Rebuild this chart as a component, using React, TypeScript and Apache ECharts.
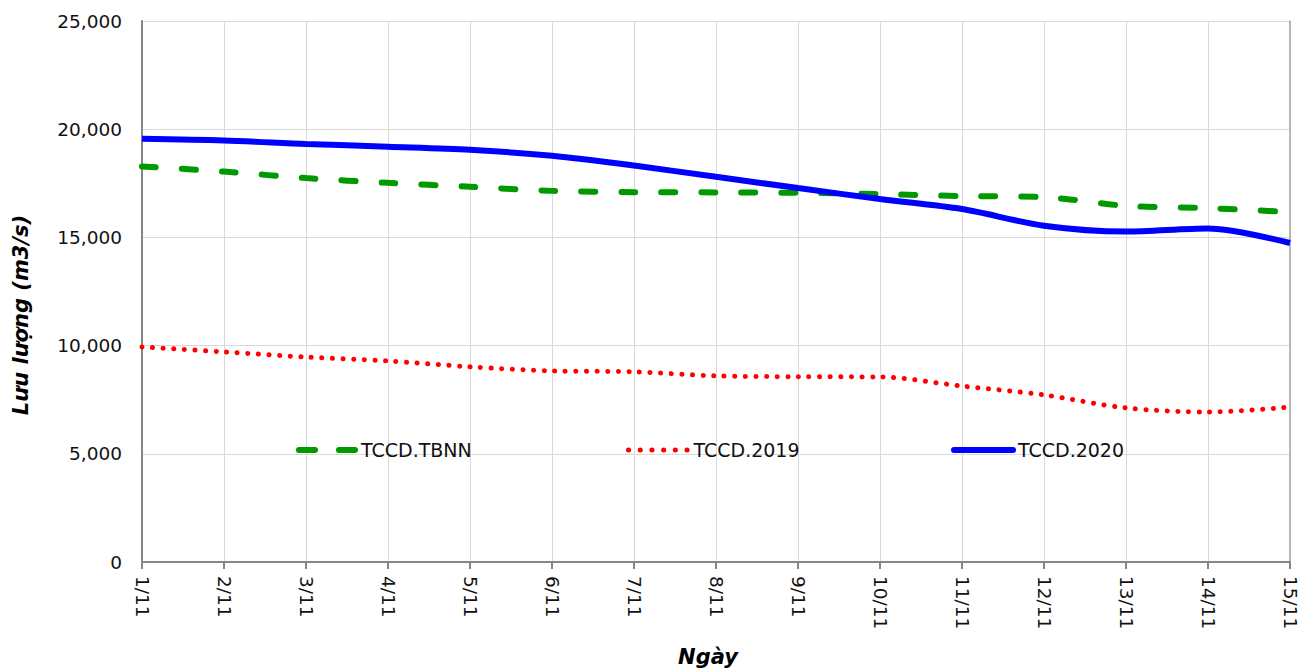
import React, { useEffect, useRef } from "react";
import * as echarts from "echarts";

const categories = ["1/11", "2/11", "3/11", "4/11", "5/11", "6/11", "7/11", "8/11", "9/11", "10/11", "11/11", "12/11", "13/11", "14/11", "15/11"];
const tbnn = [18280, 18040, 17740, 17520, 17340, 17150, 17090, 17080, 17060, 17000, 16910, 16860, 16460, 16350, 16170];
const y2019 = [9940, 9710, 9470, 9290, 9020, 8830, 8790, 8600, 8560, 8550, 8130, 7720, 7120, 6930, 7160];
const y2020 = [19560, 19480, 19320, 19190, 19050, 18770, 18320, 17800, 17280, 16770, 16310, 15540, 15270, 15410, 14740];
const yTicks = [0, 5000, 10000, 15000, 20000, 25000];

const FONT = "DejaVu Sans";

export default function App() {
  const ref = useRef<HTMLDivElement>(null);
  useEffect(() => {
    if (!ref.current) return;
    const chart = echarts.init(ref.current, undefined, { renderer: "svg" });
    const legendBase = {
      top: 440,
      itemHeight: 14,
      padding: 0,
      itemStyle: { color: "transparent", borderColor: "transparent", borderWidth: 0 },
      textStyle: { fontFamily: FONT, fontSize: 19, color: "#111", lineHeight: 20 },
    };
    chart.setOption({
      animation: false,
      backgroundColor: "#ffffff",
      grid: { left: 142, right: 25, top: 21, bottom: 109, containLabel: false },
      xAxis: {
        type: "category",
        data: categories,
        boundaryGap: false,
        axisLine: { lineStyle: { color: "#868686", width: 2 } },
        axisTick: { show: true, length: 7, alignWithLabel: true, lineStyle: { color: "#868686", width: 2 } },
        axisLabel: { rotate: -90, margin: 14, fontFamily: FONT, fontSize: 18.5, color: "#111" },
        splitLine: { show: true, lineStyle: { color: "#d9d9d9", width: 1 } },
      },
      yAxis: [
        {
          type: "value",
          min: yTicks[0],
          max: yTicks[yTicks.length - 1],
          interval: 5000,
          axisLine: { show: true, lineStyle: { color: "#868686", width: 2 } },
          axisTick: { show: false },
          axisLabel: {
            margin: 20,
            fontFamily: FONT,
            fontSize: 18.5,
            color: "#111",
            formatter: (v: number) => v.toLocaleString("en-US"),
          },
          splitLine: { show: true, lineStyle: { color: "#d9d9d9", width: 1 } },
        },
        {
          type: "value",
          position: "right",
          min: yTicks[0],
          max: yTicks[yTicks.length - 1],
          interval: 5000,
          axisLine: { show: true, lineStyle: { color: "#a6a6a6", width: 1.5 } },
          axisTick: { show: false },
          axisLabel: { show: false },
          splitLine: { show: false },
        },
      ],
      legend: [
        {
          ...legendBase,
          data: ["TCCD.TBNN"],
          left: 296,
          itemWidth: 57,
          lineStyle: { color: "#009a00", width: 6, type: [16, 24], cap: "round" },
        },
        {
          ...legendBase,
          data: ["TCCD.2019"],
          left: 626,
          itemWidth: 60,
          lineStyle: { color: "#ff0000", width: 5, type: [0.1, 11.6], cap: "round" },
        },
        {
          ...legendBase,
          data: ["TCCD.2020"],
          left: 951,
          itemWidth: 59,
          lineStyle: { color: "#0000ff", width: 6, type: "solid", cap: "round" },
        },
      ],
      graphic: [
        {
          type: "text",
          x: 21,
          y: 315,
          rotation: Math.PI / 2,
          style: {
            text: "Lưu lượng (m3/s)",
            fontFamily: FONT,
            fontSize: 21,
            fontWeight: "bold",
            fontStyle: "italic",
            fill: "#000",
            align: "center",
            verticalAlign: "middle",
          },
        },
        {
          type: "text",
          x: 708,
          y: 657,
          style: {
            text: "Ngày",
            fontFamily: FONT,
            fontSize: 21,
            fontWeight: "bold",
            fontStyle: "italic",
            fill: "#000",
            align: "center",
            verticalAlign: "middle",
          },
        },
      ],
      series: [
        {
          name: "TCCD.TBNN",
          type: "line",
          data: tbnn,
          smooth: 0.3,
          symbol: "none",
          lineStyle: { color: "#009a00", width: 6, type: [14, 26], cap: "round" },
          itemStyle: { color: "#009a00" },
        },
        {
          name: "TCCD.2019",
          type: "line",
          data: y2019,
          smooth: 0.3,
          symbol: "none",
          lineStyle: { color: "#ff0000", width: 5, type: [0.1, 10.5], cap: "round" },
          itemStyle: { color: "#ff0000" },
        },
        {
          name: "TCCD.2020",
          type: "line",
          data: y2020,
          smooth: 0.3,
          symbol: "none",
          lineStyle: { color: "#0000ff", width: 6, type: "solid" },
          itemStyle: { color: "#0000ff" },
        },
      ],
    });
    return () => chart.dispose();
  }, []);
  return (
    <div
      ref={ref}
      style={{ position: "fixed", left: 0, top: 0, width: 1315, height: 671 }}
    />
  );
}
